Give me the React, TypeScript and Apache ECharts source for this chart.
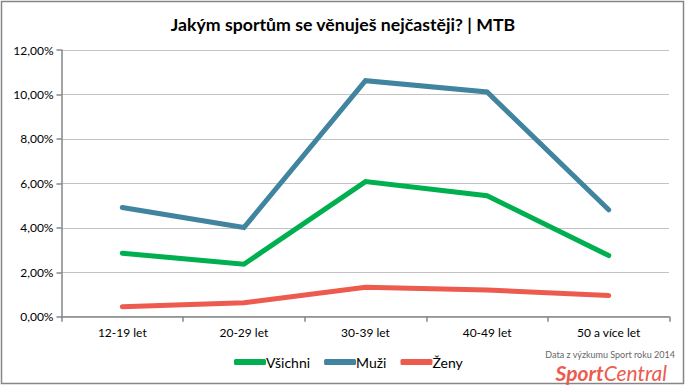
import React, { useEffect, useRef } from "react";
import * as echarts from "echarts";

const categories = ["12-19 let", "20-29 let", "30-39 let", "40-49 let", "50 a více let"];
const vsichni = [2.86, 2.36, 6.08, 5.44, 2.75];
const muzi = [4.91, 4.01, 10.62, 10.11, 4.81];
const zeny = [0.45, 0.63, 1.32, 1.2, 0.95];
const seriesNames = ["Všichni", "Muži", "Ženy"];
const titleText = "Jakým sportům se věnuješ nejčastěji? | MTB";
const sourceText = "Data z výzkumu Sport roku 2014";

const COLORS = ["#00B050", "#41849F", "#EC5B4E"];

export default function App() {
  const ref = useRef<HTMLDivElement>(null);
  useEffect(() => {
    document.body.style.margin = "0";
    const chart = echarts.init(ref.current!, null, { renderer: "svg" });
    const font = "Lato, 'Open Sans', sans-serif";
    const mk = (name: string, data: number[], color: string) => ({
      name,
      type: "line",
      data,
      symbol: "none",
      lineStyle: { width: 5, color, cap: "round", join: "miter" },
      itemStyle: { color },
    });
    chart.setOption({
      animation: false,
      backgroundColor: "#fff",
      textStyle: { fontFamily: font },
      title: {
        text: titleText,
        left: "center",
        top: 10,
        textStyle: { fontFamily: font, fontSize: 17.7, fontWeight: "bold", color: "#000" },
      },
      grid: { left: 61.5, right: 16.5, top: 50, bottom: 71.3, containLabel: false },
      xAxis: {
        type: "category",
        data: categories,
        boundaryGap: true,
        axisLine: { lineStyle: { color: "#868686", width: 1.5 } },
        axisTick: { show: true, length: 5, lineStyle: { color: "#868686", width: 1.5 } },
        axisLabel: { color: "#000", fontSize: 12, margin: 10, fontFamily: font },
      },
      yAxis: {
        type: "value",
        min: 0,
        max: 12,
        interval: 2,
        axisLine: { show: true, lineStyle: { color: "#868686", width: 1.5 } },
        axisTick: { show: true, length: 5, lineStyle: { color: "#868686", width: 1.5 } },
        axisLabel: {
          color: "#000",
          fontSize: 12,
          margin: 8,
          fontFamily: font,
          formatter: (v: number) => v.toFixed(2).replace(".", ",") + "%",
        },
        splitLine: { show: true, lineStyle: { color: "#868686", type: [1, 1], width: 1 } },
      },
      legend: {
        data: seriesNames,
        bottom: 14,
        left: 229,
        itemWidth: 32,
        itemHeight: 6,
        itemGap: 14,
        icon: "roundRect",
        textStyle: { fontSize: 14, color: "#000", fontFamily: font, padding: [0, 0, 0, -5] },
      },
      graphic: [
        {
          type: "rect",
          shape: { x: 1.5, y: 1.5, width: 682, height: 382 },
          style: { fill: "none", stroke: "#868686", lineWidth: 1.5 },
          silent: true,
        },
        {
          type: "text",
          x: 675,
          y: 350,
          style: {
            text: sourceText,
            fill: "#666",
            font: "9px " + font,
            textAlign: "right",
          },
        },
        {
          type: "text",
          x: 667,
          y: 362,
          style: {
            text: "{a|Sport}{b|Central}",
            textAlign: "right",
            rich: {
              a: { fontSize: 21, fontStyle: "italic", fontWeight: "bold", fill: "#EC5B4E", fontFamily: font },
              b: { fontSize: 21, fontStyle: "italic", fontWeight: "normal", fill: "#EC5B4E", fontFamily: font },
            },
          },
        },
      ],
      series: [mk(seriesNames[0], vsichni, COLORS[0]), mk(seriesNames[1], muzi, COLORS[1]), mk(seriesNames[2], zeny, COLORS[2])],
    });
    return () => chart.dispose();
  }, []);
  return <div ref={ref} style={{ width: 686, height: 388 }} />;
}
